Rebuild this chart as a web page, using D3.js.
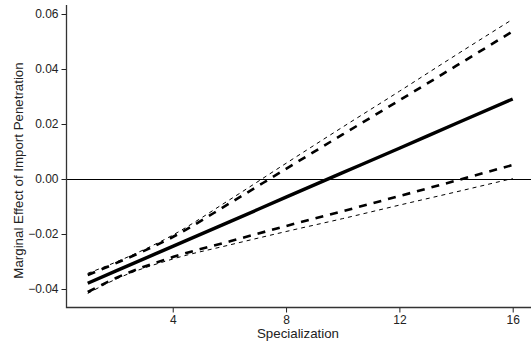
<!DOCTYPE html>
<html>
<head>
<meta charset="utf-8">
<script src="https://cdn.jsdelivr.net/npm/d3@7"></script>
<style>
  body { margin: 0; background: #fff; }
  svg { display: block; font-family: "Liberation Sans", Arial, sans-serif; }
  .tick text { fill: #222; font-size: 12px; }
  .axis-title { fill: #222; font-size: 13.3px; }
</style>
</head>
<body>
<div id="chart"></div>
<script>
// specialization values where the curves were read
const specialization = [1, 2, 4, 6, 8, 10, 12, 14, 16];
// marginal effect (solid)
const effect = [-0.0379, -0.0334, -0.0245, -0.0156, -0.0066, 0.0023, 0.0112, 0.0202, 0.0291];
// inner band (thick dashed)
const innerUpper = [-0.0349, -0.0306, -0.0211, -0.0089, 0.0037, 0.0162, 0.0286, 0.0411, 0.0537];
const innerLower = [-0.0411, -0.0360, -0.0284, -0.0227, -0.0171, -0.0117, -0.0062, -0.0006, 0.0051];
// outer band (thin dashed)
const outerUpper = [-0.0343, -0.0302, -0.0204, -0.0076, 0.0057, 0.0189, 0.0319, 0.0451, 0.0581];
const outerLower = [-0.0416, -0.0364, -0.0291, -0.0240, -0.0191, -0.0144, -0.0095, -0.0047, 0.0002];

const xTicks = [4, 8, 12, 16];
const yTicks = [-0.04, -0.02, 0, 0.02, 0.04, 0.06];

const width = 531, height = 343;
const axisLeftX = 66.5, axisBottomY = 307.5, axisTopY = 5, axisRightX = 531;

const svg = d3.select('#chart').append('svg')
  .attr('width', width)
  .attr('height', height);

const x = d3.scaleLinear().domain([0, 16]).range([59.4, 512.7]);
const y = d3.scaleLinear().domain([-0.04, 0.06]).range([289, 14]);

// zero reference line
svg.append('line')
  .attr('x1', axisLeftX).attr('x2', axisRightX)
  .attr('y1', Math.round(y(0)) + 0.5).attr('y2', Math.round(y(0)) + 0.5)
  .attr('stroke', '#000').attr('stroke-width', 1);

// axes
const gx = svg.append('g')
  .attr('transform', 'translate(0,' + axisBottomY + ')')
  .call(d3.axisBottom(x).tickValues(xTicks).tickSize(5).tickPadding(3).tickFormat(d3.format('d')));
gx.select('.domain').remove();
gx.selectAll('.tick line').attr('stroke', '#222');

const gy = svg.append('g')
  .attr('transform', 'translate(' + axisLeftX + ',0)')
  .call(d3.axisLeft(y).tickValues(yTicks).tickSize(5).tickPadding(3).tickFormat(d3.format('.2f')));
gy.select('.domain').remove();
gy.selectAll('.tick line').attr('stroke', '#222');

svg.append('path')
  .attr('d', 'M' + axisLeftX + ',' + axisTopY + 'V' + axisBottomY + 'H' + axisRightX)
  .attr('fill', 'none')
  .attr('stroke', '#333')
  .attr('stroke-width', 1.3);

// titles
svg.append('text')
  .attr('class', 'axis-title')
  .attr('x', 298)
  .attr('y', 337.5)
  .attr('text-anchor', 'middle')
  .text('Specialization');

svg.append('text')
  .attr('class', 'axis-title')
  .attr('transform', 'translate(23,170.5) rotate(-90)')
  .attr('text-anchor', 'middle')
  .text('Marginal Effect of Import Penetration');

// lines
const line = d3.line()
  .x((d, i) => x(specialization[i]))
  .y(d => y(d))
  .curve(d3.curveMonotoneX);

function drawLine(values, w, dash) {
  svg.append('path')
    .datum(values)
    .attr('fill', 'none')
    .attr('stroke', '#000')
    .attr('stroke-width', w)
    .attr('stroke-dasharray', dash)
    .attr('d', line);
}

drawLine(outerUpper, 1, '4,4');
drawLine(outerLower, 1, '4,4');
drawLine(innerUpper, 2.6, '8,7');
drawLine(innerLower, 2.6, '8,7');
drawLine(effect, 3.4, null);
</script>
</body>
</html>
